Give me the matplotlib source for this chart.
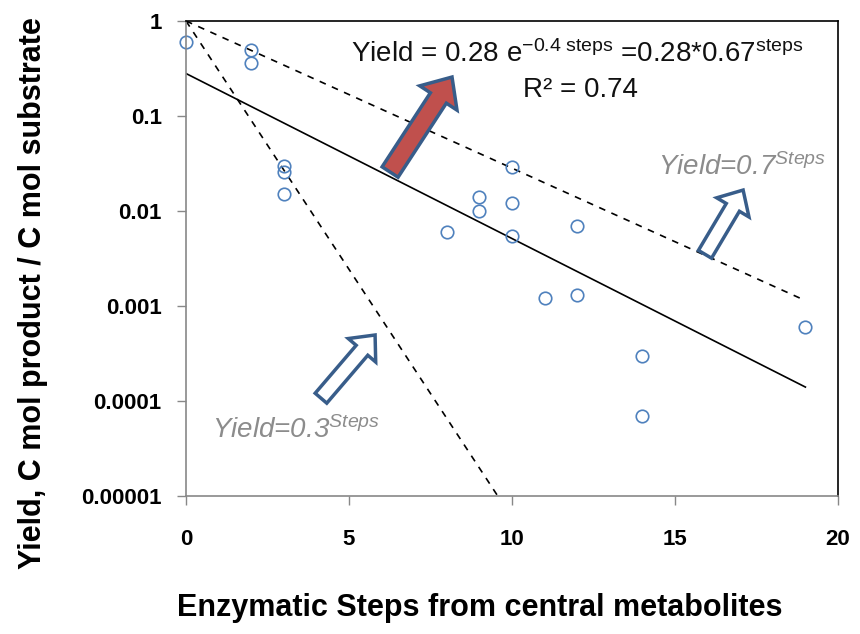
import numpy as np
import matplotlib
matplotlib.use("Agg")
import matplotlib.pyplot as plt
from matplotlib.patches import FancyArrowPatch

plt.rcParams['font.family'] = ['Liberation Sans', 'DejaVu Sans']
plt.rcParams['mathtext.fontset'] = 'custom'
plt.rcParams['mathtext.rm'] = 'Liberation Sans'
plt.rcParams['mathtext.it'] = 'Liberation Sans:italic'

# Observed yields vs. number of enzymatic steps
steps = [0, 2, 2, 3, 3, 3, 8, 9, 9, 10, 10, 10, 11, 12, 12, 14, 14, 19]
yields = [0.6, 0.5, 0.36, 0.03, 0.026, 0.015, 0.006, 0.014, 0.01,
          0.029, 0.012, 0.0055, 0.0012, 0.007, 0.0013, 0.0003, 0.00007, 0.0006]

# Exponential fit and reference yield-per-step curves
fit_a, fit_k = 0.28, -0.4
step_yield_hi = 0.7
step_yield_lo = 0.3
x_line = np.linspace(0, 19, 200)

fig = plt.figure(figsize=(8.6, 6.34), dpi=100)
ax = fig.add_axes([0.2163, 0.2177, 0.7581, 0.7492])

ax.plot(x_line, fit_a * np.exp(fit_k * x_line), color='black', lw=1.2)
ax.plot(x_line, step_yield_hi ** x_line, color='black', lw=1.2, ls=(0, (4, 4)))
ax.plot(x_line, step_yield_lo ** x_line, color='black', lw=1.2, ls=(0, (4, 4)))
ax.plot(steps, yields, 'o', mfc='none', mec='#4F81BD', mew=1.2, ms=9, clip_on=False)

ax.set_yscale('log')
ax.set_xlim(0, 20)
ax.set_ylim(1e-5, 1)
ax.set_xticks([0, 5, 10, 15, 20])
ax.set_yticks([1e-5, 1e-4, 1e-3, 1e-2, 1e-1, 1])
ax.set_yticklabels(['0.00001', '0.0001', '0.001', '0.01', '0.1', '1'])
ax.minorticks_off()
ax.tick_params(axis='both', direction='out', length=6.5, width=1, color='#888888',
               labelsize=16)
ax.tick_params(axis='y', pad=11)
ax.tick_params(axis='x', pad=17)
for lab in ax.get_xticklabels() + ax.get_yticklabels():
    lab.set_fontweight('bold')
for side in ['left', 'bottom']:
    ax.spines[side].set_color('#888888')
    ax.spines[side].set_linewidth(1.2)
for side in ['top', 'right']:
    ax.spines[side].set_color('black')
    ax.spines[side].set_linewidth(1.2)

ax.set_xlabel('Enzymatic Steps from central metabolites', fontsize=22,
              fontweight='bold')
ax.set_ylabel('Yield, C mol product / C mol substrate', fontsize=22,
              fontweight='bold')
ax.xaxis.set_label_coords(0.451, -0.205)
ax.yaxis.set_label_coords(-0.212, 0.427)

# Annotation arrows: (tail, tip, tail width, head width, head length, fill)
arrow_edge = '#385D8A'
arrows = [
    ((6.26, 0.0257), (8.16, 0.257), 1.37, 3.2, 1.8, '#C0504D'),
    ((15.92, 0.0035), (17.09, 0.0166), 1.1, 2.7, 1.45, 'white'),
    ((4.14, 1.07e-4), (5.80, 4.95e-4), 1.1, 2.6, 1.45, 'white'),
]
for tail, tip, tw, hw, hl, fill in arrows:
    style = f'simple,head_length={hl},head_width={hw},tail_width={tw}'
    ax.add_patch(FancyArrowPatch(tail, tip, arrowstyle=style, mutation_scale=10,
                                 fc=fill, ec=arrow_edge, lw=2.5, joinstyle='miter',
                                 shrinkA=0, shrinkB=0, zorder=5))

ax.text(12.0, 0.45, r'Yield = 0.28 e$^{\mathrm{-0.4\ steps}}$ =0.28*0.67$^{\mathrm{steps}}$',
        fontsize=20, ha='center', va='center', color='#111111')
ax.text(12.1, 0.19, 'R² = 0.74', fontsize=20, ha='center', va='center', color='#111111')
ax.text(14.48, 0.029, r'Yield=0.7$^{Steps}$', fontsize=20, style='italic',
        color='#8C8C8C', ha='left', va='center')
ax.text(0.8, 4.9e-5, r'Yield=0.3$^{Steps}$', fontsize=20, style='italic',
        color='#8C8C8C', ha='left', va='center')

fig.savefig('out.png', dpi=100)
